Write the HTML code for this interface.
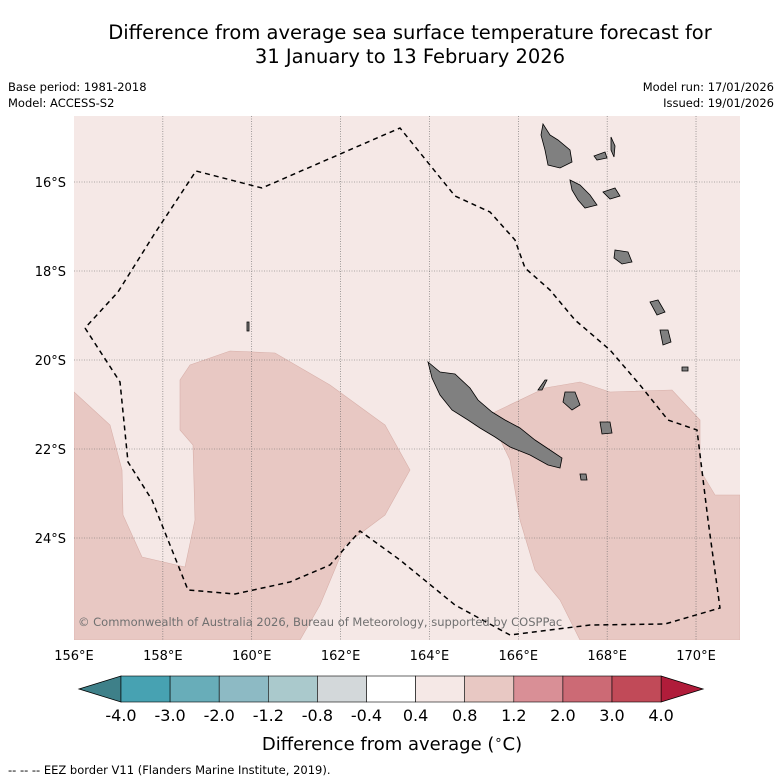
<!DOCTYPE html>
<html><head><meta charset="utf-8"><style>
body{margin:0;background:#fff;font-family:"Liberation Sans","DejaVu Sans",sans-serif}
svg{display:block}
</style></head><body>
<svg width="781" height="781" viewBox="0 0 781 781" font-family="DejaVu Sans, Liberation Sans, sans-serif">
<text x="410" y="39" text-anchor="middle" font-size="19.5">Difference from average sea surface temperature forecast for</text>
<text x="410" y="63" text-anchor="middle" font-size="19.5">31 January to 13 February 2026</text>
<text x="8" y="91" font-size="11.5">Base period: 1981-2018</text>
<text x="8" y="107" font-size="11.5">Model: ACCESS-S2</text>
<text x="774" y="91" font-size="11.5" text-anchor="end">Model run: 17/01/2026</text>
<text x="774" y="107" font-size="11.5" text-anchor="end">Issued: 19/01/2026</text>
<g id="map">
<rect x="74" y="116" width="666" height="524" fill="#f5e8e6"/>
<clipPath id="mc"><rect x="74" y="116" width="666" height="524"/></clipPath>
<g clip-path="url(#mc)">
<polygon fill="#e8c8c3" stroke="#d8b0aa" stroke-width="0.6" points="74,392 110,425 122,470 123,515 142,557 185,567 195,520 193,445 180,430 180,380 190,365 230,351 275,353 330,385 385,425 410,470 385,515 345,545 320,605 300,640 74,640"/>
<polygon fill="#e8c8c3" stroke="#d8b0aa" stroke-width="0.6" points="495,412 545,388 580,382 610,392 672,390 700,420 700,470 715,495 740,495 740,640 580,640 560,600 535,570 520,520 510,460 498,435 475,425"/>
<g id="grid"></g>
<g fill="#808080" stroke="#000" stroke-width="0.8">
<path d="M428,362 L440,372 L455,374 L470,388 L478,400 L492,412 L505,420 L520,428 L535,440 L550,450 L562,458 L560,468 L548,465 L530,455 L510,447 L495,437 L480,428 L468,420 L452,410 L440,395 L432,378 Z"/>
<path d="M543,124 L550,135 L558,140 L570,150 L572,162 L560,168 L548,165 L545,150 L541,135 Z"/>
<path d="M570,180 L580,185 L590,195 L597,205 L585,208 L578,200 L572,190 Z"/>
<path d="M615,250 L628,252 L632,262 L622,264 L614,258 Z"/>
<path d="M611,137 L615,146 L614,157 L611,150 Z"/>
<path d="M594,156 L605,152 L607,158 L597,160 Z"/>
<path d="M603,192 L615,188 L620,196 L610,199 Z"/>
<path d="M650,302 L658,300 L665,312 L657,315 Z"/>
<path d="M660,330 L668,330 L671,342 L663,345 Z"/>
<path d="M565,392 L575,392 L580,405 L572,410 L563,402 Z"/>
<path d="M600,422 L610,422 L612,433 L602,434 Z"/>
<path d="M580,474 L586,474 L587,480 L581,480 Z"/>
<path d="M538,390 L545,380 L547,380 L542,390 Z"/>
<path d="M247,322 L249,322 L249,331 L247,331 Z"/>
<path d="M682,367 L688,367 L688,371 L682,371 Z"/>
</g>
<polyline fill="none" stroke="#000" stroke-width="1.5" stroke-dasharray="5,4" points="85,328 120,382 128,462 152,500 188,590 235,594 290,582 330,565 360,531 400,560 455,605 510,635 590,625 665,624 720,608 708,520 697,430 668,420 640,385 610,350 575,320 550,290 525,268 515,240 490,212 455,196 400,128 262,188 196,171 155,233 118,292 85,328"/>
</g>
<text x="78" y="626" font-size="11.5" fill="#707070">© Commonwealth of Australia 2026, Bureau of Meteorology, supported by COSPPac</text>
</g>
<g id="axes"></g>
<g id="cbar"></g>
<text x="392" y="750" text-anchor="middle" font-size="18">Difference from average (<tspan font-size="13" dy="-6">∘</tspan><tspan dy="6">C)</tspan></text>
<text x="8" y="774" font-size="11.5">--  --  -- EEZ border V11 (Flanders Marine Institute, 2019).</text>
</svg>
<script>
const lonTicks=[158,160,162,164,166,168,170];
const latTicks=[16,18,20,22,24];
const lonAxisLabels=[156,158,160,162,164,166,168,170];
const cbLabels=["-4.0","-3.0","-2.0","-1.2","-0.8","-0.4","0.4","0.8","1.2","2.0","3.0","4.0"];
const cbColors=["#47a2b2","#68adb9","#8dbac4","#aac9cc","#d3d8da","#ffffff","#f5e8e6","#e8c8c3","#d98f96","#cc6a75","#c14a58"];
const NS="http://www.w3.org/2000/svg";
const xLon=l=>74+(l-156)*44.43;
const yLat=l=>182+(l-16)*44.5;
function mk(t,a,p){const e=document.createElementNS(NS,t);for(const k in a)e.setAttribute(k,a[k]);p.appendChild(e);return e;}
const grid=document.getElementById('grid');
lonTicks.forEach(l=>{const e=mk('line',{x1:xLon(l),x2:xLon(l),y1:116,y2:640,stroke:'#666','stroke-width':0.6,'stroke-dasharray':'1,1.5'},grid);

});
latTicks.forEach(l=>{const e=mk('line',{x1:74,x2:740,y1:yLat(l),y2:yLat(l),stroke:'#666','stroke-width':0.6,'stroke-dasharray':'1,1.5'},grid);

});
const ax=document.getElementById('axes');
lonAxisLabels.forEach(l=>{const t=mk('text',{x:xLon(l),y:660,'text-anchor':'middle','font-size':13},ax);t.textContent=l+'°E';

});
latTicks.forEach(l=>{const t=mk('text',{x:66,y:yLat(l)+5,'text-anchor':'end','font-size':13},ax);t.textContent=l+'°S';

});
const cb=document.getElementById('cbar');
const x0=121,w=49.1,y0=676,h=26;
const la=mk('polygon',{points:`${x0},${y0} ${x0},${y0+h} 79,${y0+h/2}`,fill:'#3e8089',stroke:'#000','stroke-width':0.8},cb);


const xe=x0+w*cbColors.length;
const ra=mk('polygon',{points:`${xe},${y0} ${xe},${y0+h} 703,${y0+h/2}`,fill:'#b01c3a',stroke:'#000','stroke-width':0.8},cb);


cbColors.forEach((c,i)=>{const r=mk('rect',{x:x0+i*w,y:y0,width:w,height:h,fill:c,stroke:'#000','stroke-width':0.6},cb);

});
cbLabels.forEach((s,i)=>{const t=mk('text',{x:x0+i*w,y:721,'text-anchor':'middle','font-size':16},cb);t.textContent=s;

});
</script>
</body></html>
